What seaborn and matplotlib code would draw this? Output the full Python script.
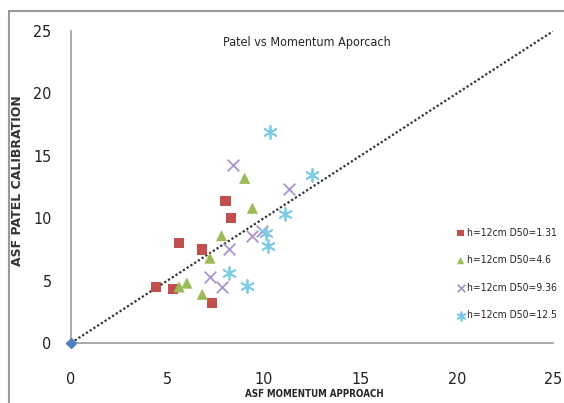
import matplotlib
matplotlib.use("Agg")
import matplotlib.pyplot as plt
import matplotlib.patches as patches
import seaborn as sns
import pandas as pd

# values
red_x = [4.4, 5.3, 5.6, 6.8, 7.3, 8.0, 8.3]
red_y = [4.5, 4.3, 8.0, 7.5, 3.2, 11.4, 10.0]
green_x = [5.6, 6.0, 6.8, 7.2, 7.8, 9.0, 9.4]
green_y = [4.5, 4.8, 3.9, 6.8, 8.6, 13.2, 10.8]
purple_x = [7.2, 7.8, 8.2, 8.4, 9.4, 9.9, 11.3]
purple_y = [5.3, 4.5, 7.5, 14.3, 8.6, 9.0, 12.3]
blue_x = [8.2, 9.1, 10.1, 10.2, 10.3, 11.1, 12.5]
blue_y = [5.6, 4.6, 8.8, 7.8, 16.9, 10.3, 13.5]
line_x = [0, 25]
line_y = [0, 25]

labels = ["h=12cm D50=1.31", "h=12cm D50=4.6", "h=12cm D50=9.36", "h=12cm D50=12.5"]
colors = ["#C0504D", "#9BBB59", "#A995CC", "#7CCDE3"]
markers = ["s", "^", "x", (6, 2, 0)]
sizes = [55, 65, 70, 90]

sns.set_style("white")
plt.rcParams["font.family"] = ["DejaVu Sans"]
plt.rcParams["font.stretch"] = "condensed"

fig = plt.figure(figsize=(5.64, 4.03), dpi=100)
ax = fig.add_axes([0.126, 0.149, 0.855, 0.774])

# outer chart border
fig.patches.append(patches.Rectangle((0.016, -0.1), 1.2, 1.073, transform=fig.transFigure,
                                     fill=False, edgecolor="#9a9a9a", linewidth=1.5))

# 1:1 line
ax.plot(line_x, line_y, linestyle=(0, (1, 1)), color="#333333", linewidth=1.6, zorder=2)
ax.plot(line_x[:1], line_y[:1], marker="D", color="#4F81BD", markersize=5, zorder=3,
        clip_on=False)

series = [(red_x, red_y), (green_x, green_y), (purple_x, purple_y), (blue_x, blue_y)]
for (xs, ys), lab, c, m, s in zip(series, labels, colors, markers, sizes):
    df = pd.DataFrame({"x": xs, "y": ys})
    lw = 1.3 if m in ("x",) or isinstance(m, tuple) else 0
    sns.scatterplot(data=df, x="x", y="y", ax=ax, marker=m, color=c, s=s,
                    linewidth=lw, edgecolor=c if lw else "none", label=lab, zorder=4)

ax.set_xlim(0, 25)
ax.set_ylim(0, 25)
ax.set_xticks([0, 5, 10, 15, 20, 25])
ax.set_yticks([0, 5, 10, 15, 20, 25])
ax.tick_params(axis="both", labelsize=11.5, length=5, width=1, direction="out", pad=9)
ax.tick_params(axis="x", colors="#9a9a9a", labelcolor="#222222", pad=16)
ax.tick_params(axis="y", colors="#9a9a9a", labelcolor="#222222")
sns.despine(ax=ax)
for sp in ["left", "bottom"]:
    ax.spines[sp].set_color("#9a9a9a")
    ax.spines[sp].set_linewidth(1.2)

ax.set_xlabel("ASF MOMENTUM APPROACH", fontsize=7, fontweight="bold", labelpad=0)
ax.xaxis.set_label_coords(0.504, -0.148)
ax.set_ylabel("ASF PATEL CALIBRATION", fontsize=9, fontweight="bold",
              fontstretch="normal", color="#333333")
ax.yaxis.set_label_coords(-0.097, 0.52)

ax.text(0.49, 0.985, "Patel vs Momentum Aporcach", transform=ax.transAxes,
        ha="center", va="top", fontsize=9)

ax.legend(loc="upper left", bbox_to_anchor=(0.8, 0.445), bbox_transform=fig.transFigure,
          frameon=False, fontsize=7.5, labelspacing=1.68, handletextpad=0.1,
          handlelength=1.0, markerscale=0.65, borderaxespad=0)

fig.savefig("out.png", dpi=100)
